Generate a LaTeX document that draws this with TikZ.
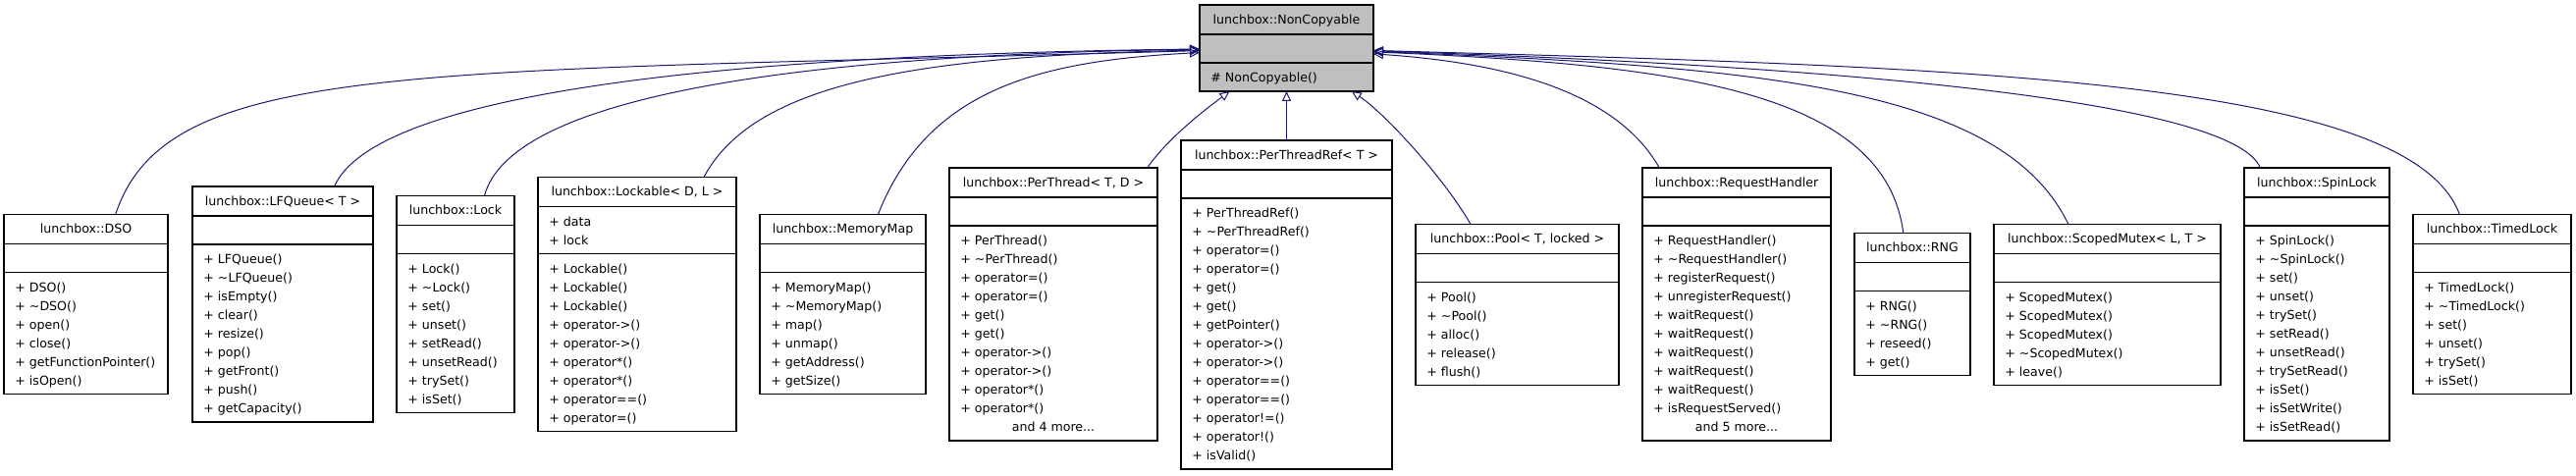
\documentclass[tikz,border=0pt]{standalone}
\usepackage{fontspec}
\setmainfont{DejaVu Sans}
\usepackage{tikz}
\definecolor{dxblue}{HTML}{191970}
\definecolor{dxgray}{HTML}{BFBFBF}
\usetikzlibrary{arrows.meta, calc}

\newcommand{\clsfont}{\fontsize{6.3}{9.5}\selectfont}
% [fill] name, centre, width (px), title, attr lines, attrs, method lines, methods
\newcommand{\umlclass}[9][white]{%
  \pgfmathsetmacro{\clsA}{#6*9.5+5}%
  \pgfmathsetmacro{\clsM}{#8*9.5+5}%
  \pgfmathsetmacro{\clsH}{15+\clsA+\clsM}%
  \node[clsbox, fill=#1, minimum width=#4*0.5pt, minimum height=\clsH pt] (#2) at #3 {};
  \node[clstext, anchor=base] (#2-title) at ([yshift=-9.65pt]#2.north) {#5};
  \draw[clsline] ([yshift=-15pt]#2.north west) -- ([yshift=-15pt]#2.north east);
  \draw[clsline] ([yshift=-15pt-\clsA pt]#2.north west) -- ([yshift=-15pt-\clsA pt]#2.north east);
  \node[clstext, anchor=north west, align=left] (#2-attr) at ([xshift=5.5pt, yshift=-18pt]#2.north west) {\strut#7};
  \node[clstext, anchor=north west, align=left] (#2-ops) at ([xshift=5.5pt, yshift=-18pt-\clsA pt]#2.north west) {\strut#9};
}

\begin{document}
\begin{tikzpicture}[
    x=0.5pt, y=-0.5pt,
    clsbox/.style={rectangle, draw, line width=0.6pt, inner sep=0pt, outer sep=0pt},
    clsline/.style={line width=0.6pt},
    clstext/.style={font=\clsfont, inner sep=0pt},
    inh/.style={draw=dxblue, line width=0.5pt, -{Triangle[open, length=5pt, width=4.5pt]}},
]
\useasboundingbox (0,0) rectangle (2624,485);

% base class
\umlclass[dxgray]{nc}{(1310.5,49)}{177}{lunchbox::NonCopyable}{1}{}{1}{\# NonCopyable()}

% derived classes
\umlclass{dso}{(87.5,310)}{167}{lunchbox::DSO}{1}{}{6}{+ DSO()\\+ \textasciitilde DSO()\\+ open()\\+ close()\\+ getFunctionPointer()\\+ isOpen()}
\umlclass{lfq}{(288,310)}{184}{lunchbox::LFQueue< T >}{1}{}{9}{+ LFQueue()\\+ \textasciitilde LFQueue()\\+ isEmpty()\\+ clear()\\+ resize()\\+ pop()\\+ getFront()\\+ push()\\+ getCapacity()}
\umlclass{lock}{(464,310)}{120}{lunchbox::Lock}{1}{}{8}{+ Lock()\\+ \textasciitilde Lock()\\+ set()\\+ unset()\\+ setRead()\\+ unsetRead()\\+ trySet()\\+ isSet()}
\umlclass{lockable}{(649,310)}{202}{lunchbox::Lockable< D, L >}{2}{+ data\\+ lock}{9}{+ Lockable()\\+ Lockable()\\+ Lockable()\\+ operator->()\\+ operator->()\\+ operator*()\\+ operator*()\\+ operator==()\\+ operator=()}
\umlclass{memmap}{(858.5,310)}{169}{lunchbox::MemoryMap}{1}{}{6}{+ MemoryMap()\\+ \textasciitilde MemoryMap()\\+ map()\\+ unmap()\\+ getAddress()\\+ getSize()}
\umlclass{perthread}{(1073,310)}{212}{lunchbox::PerThread< T, D >}{1}{}{11}{+ PerThread()\\+ \textasciitilde PerThread()\\+ operator=()\\+ operator=()\\+ get()\\+ get()\\+ operator->()\\+ operator->()\\+ operator*()\\+ operator*()}
\node[clstext, anchor=base] (perthread-more) at ([yshift=4.85pt]perthread.south) {and 4 more...};
\umlclass{ptr}{(1310.5,310.5)}{215}{lunchbox::PerThreadRef< T >}{1}{}{14}{+ PerThreadRef()\\+ \textasciitilde PerThreadRef()\\+ operator=()\\+ operator=()\\+ get()\\+ get()\\+ getPointer()\\+ operator->()\\+ operator->()\\+ operator==()\\+ operator==()\\+ operator!=()\\+ operator!()\\+ isValid()}
\umlclass{pool}{(1545.5,310.5)}{207}{lunchbox::Pool< T, locked >}{1}{}{5}{+ Pool()\\+ \textasciitilde Pool()\\+ alloc()\\+ release()\\+ flush()}
\umlclass{reqh}{(1769,310)}{192}{lunchbox::RequestHandler}{1}{}{11}{+ RequestHandler()\\+ \textasciitilde RequestHandler()\\+ registerRequest()\\+ unregisterRequest()\\+ waitRequest()\\+ waitRequest()\\+ waitRequest()\\+ waitRequest()\\+ waitRequest()\\+ isRequestServed()}
\node[clstext, anchor=base] (reqh-more) at ([yshift=4.85pt]reqh.south) {and 5 more...};
\umlclass{rng}{(1948,310)}{118}{lunchbox::RNG}{1}{}{4}{+ RNG()\\+ \textasciitilde RNG()\\+ reseed()\\+ get()}
\umlclass{smutex}{(2146.5,310.5)}{231}{lunchbox::ScopedMutex< L, T >}{1}{}{5}{+ ScopedMutex()\\+ ScopedMutex()\\+ ScopedMutex()\\+ \textasciitilde ScopedMutex()\\+ leave()}
\umlclass{spin}{(2360,310)}{148}{lunchbox::SpinLock}{1}{}{11}{+ SpinLock()\\+ \textasciitilde SpinLock()\\+ set()\\+ unset()\\+ trySet()\\+ setRead()\\+ unsetRead()\\+ trySetRead()\\+ isSet()\\+ isSetWrite()\\+ isSetRead()}
\umlclass{timed}{(2538.5,310)}{161}{lunchbox::TimedLock}{1}{}{6}{+ TimedLock()\\+ \textasciitilde TimedLock()\\+ set()\\+ unset()\\+ trySet()\\+ isSet()}

% inheritance edges
\draw[inh] (dso) .. controls (170,60) and (420,75) .. (nc);
\draw[inh] (lfq) .. controls (380,100) and (700,56) .. (nc);
\draw[inh] (lock) .. controls (520,100) and (800,56) .. (nc);
\draw[inh] (lockable) .. controls (770,80) and (950,57) .. (nc);
\draw[inh] (memmap) .. controls (945,90) and (1060,62) .. (nc);
\draw[inh] (perthread) .. controls (1190,140) and (1230,110) .. (nc);
\draw[inh] (ptr) -- (nc);
\draw[inh] (pool) .. controls (1470,180) and (1410,115) .. (nc);
\draw[inh] (reqh) .. controls (1650,100) and (1550,65) .. (nc);
\draw[inh] (rng) .. controls (1920,90) and (1700,66) .. (nc);
\draw[inh] (smutex) .. controls (2040,90) and (1800,68) .. (nc);
\draw[inh] (spin) .. controls (2275,105) and (1900,68) .. (nc);
\draw[inh] (timed) .. controls (2455,80) and (2000,68) .. (nc);
\end{tikzpicture}
\end{document}
